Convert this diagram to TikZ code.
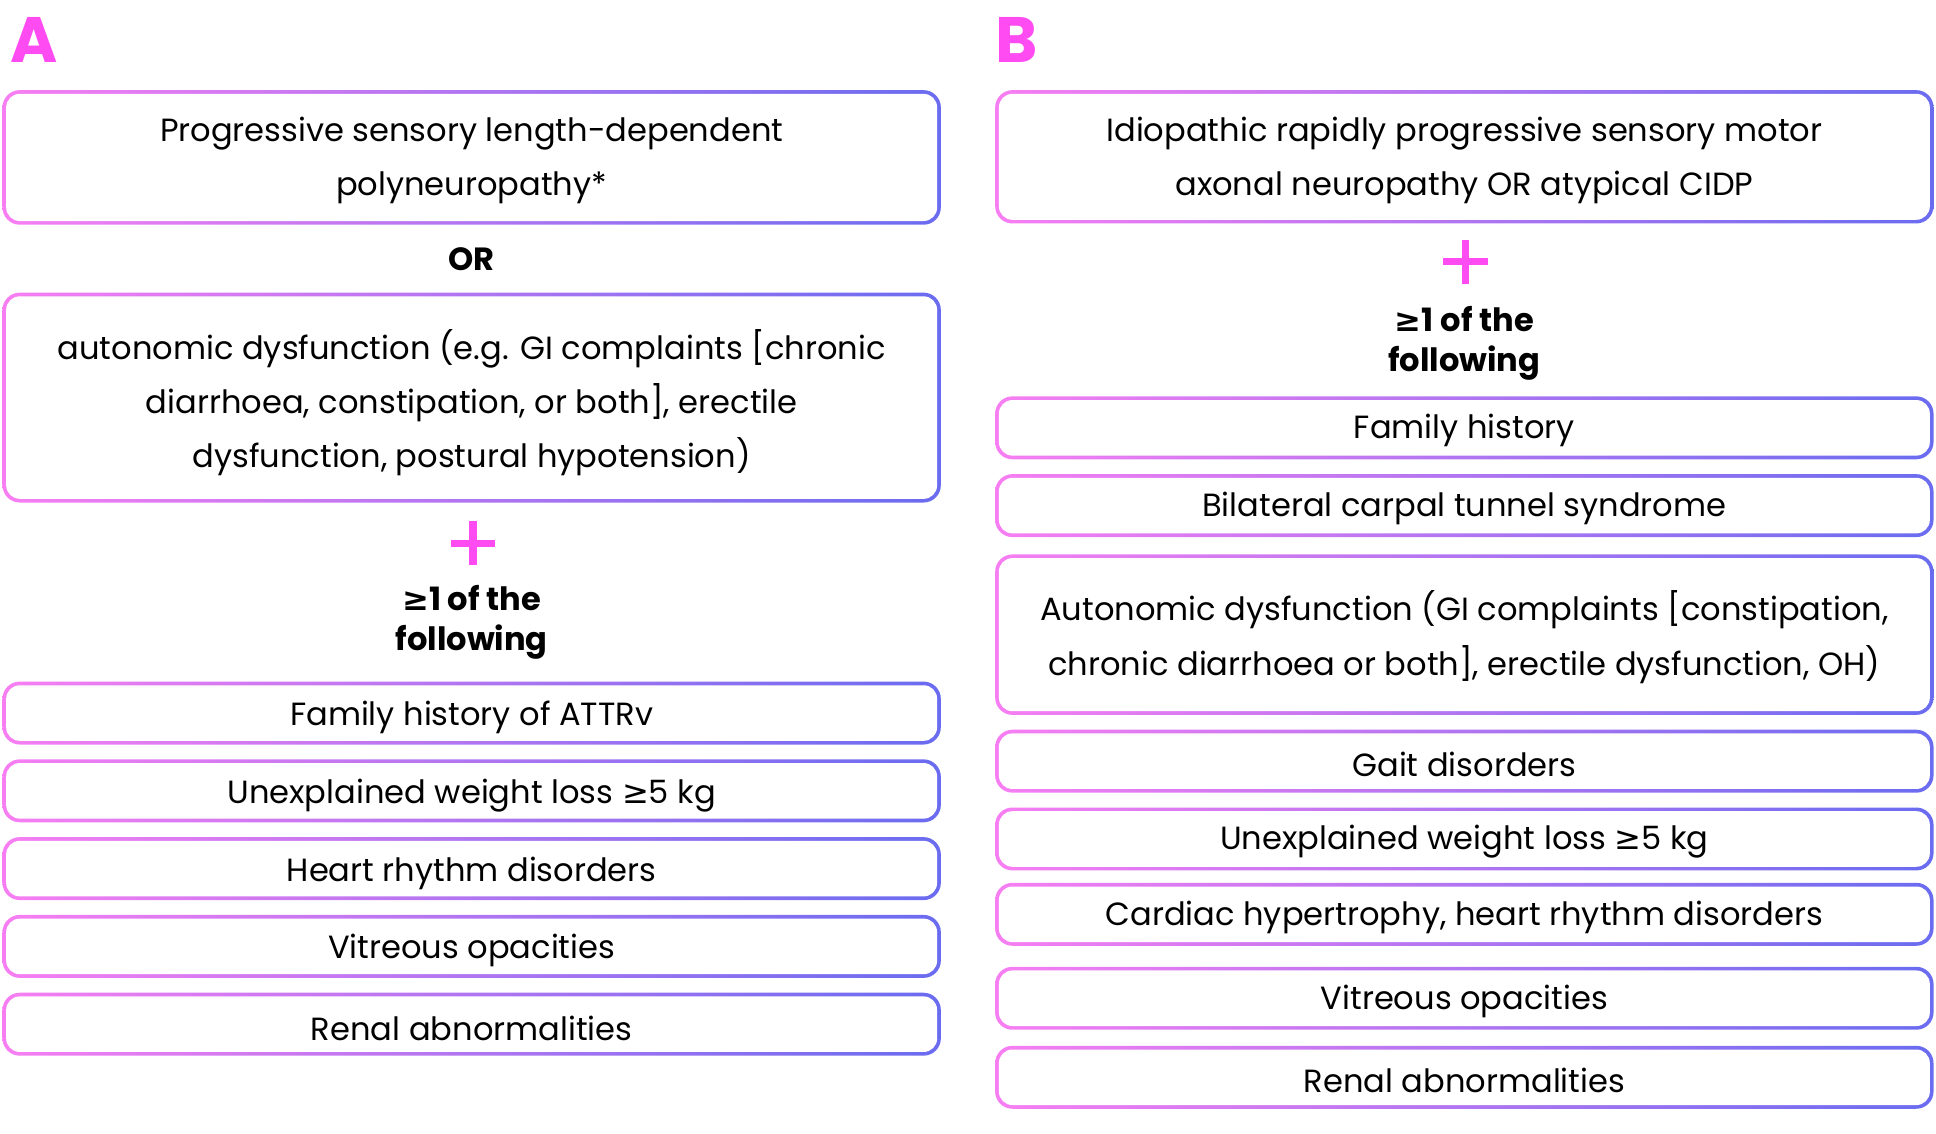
\documentclass[tikz,border=0pt]{standalone}
\usepackage{fontspec}
\setmainfont{Poppins}
\newfontfamily\djv{DejaVu Sans}
\definecolor{pk}{HTML}{F77EF2}
\definecolor{bl}{HTML}{6A6CF0}
\definecolor{mg}{HTML}{FF4CF2}
\newcommand\gbox[4]{%
 \shade[left color=pk,right color=bl,rounded corners=14pt] (#1,#2) rectangle (#3,#4);
 \fill[white,rounded corners=11pt] ($(#1,#2)+(3,3)$) rectangle ($(#3,#4)+(-3,-3)$);}
\usetikzlibrary{calc}
\begin{document}
\begin{tikzpicture}[x=1pt,y=-1pt,
 t/.style={font=\fontsize{26}{44}\selectfont,align=center,text=black},
 bt/.style={font=\fontsize{26}{32}\selectfont\bfseries,align=center,text=black},
 lab/.style={font=\fontsize{52}{52}\selectfont\bfseries,text=mg},
 plus/.style={mg,line width=6pt}]
\useasboundingbox (0,0) rectangle (1568,918);
\node[lab] (la) at (28,32) {A};
\node[lab] (lb) at (823,32) {B};
% Column A
\gbox{2}{73}{762}{182}
\node[t] (a1) at (382,130) {Progressive sensory length-dependent\\polyneuropathy*};
\node[bt] (or) at (382,210) {OR};
\gbox{2}{237}{762}{407}
\node[t] (a2) at (382,326) {autonomic dysfunction (e.g. GI complaints [chronic\\diarrhoea, constipation, or both], erectile\\dysfunction, postural hypotension)};
\draw[plus] (365,440) -- (401,440) (383,422) -- (383,458);
\node[bt] (af) at (382,504) {{\djv\bfseries ≥}1 of the\\following};
\foreach \y/\s [count=\i] in {552/Family history of ATTRv,615/Unexplained weight loss {\djv ≥}5 kg,678/Heart rhythm disorders,741/Vitreous opacities,804/Renal abnormalities}{
 \gbox{2}{\y}{762}{\y+51}
 \node[t] (ab\i) at (382,\y+29) {\s};}
% Column B
\gbox{806}{73}{1566}{181}
\node[t] (b1) at (1186,130) {Idiopathic rapidly progressive sensory motor\\axonal neuropathy OR atypical CIDP};
\draw[plus] (1169,212) -- (1205,212) (1187,194) -- (1187,230);
\node[bt] (bf) at (1186,278) {{\djv\bfseries ≥}1 of the\\following};
\foreach \y/\h/\s [count=\i] in {321/51/Family history,384/51/Bilateral carpal tunnel syndrome,591/51/Gait disorders,654/51/Unexplained weight loss {\djv ≥}5 kg,715/51/{Cardiac hypertrophy, heart rhythm disorders},783/51/Vitreous opacities,847/51/Renal abnormalities}{
 \gbox{806}{\y}{1566}{\y+\h}
 \node[t] (bb\i) at (1186,\y+28) {\s};}
\gbox{806}{449}{1566}{579}
\node[t] (bauto) at (1186,516) {Autonomic dysfunction (GI complaints [constipation,\\chronic diarrhoea or both], erectile dysfunction, OH)};
\end{tikzpicture}
\end{document}
